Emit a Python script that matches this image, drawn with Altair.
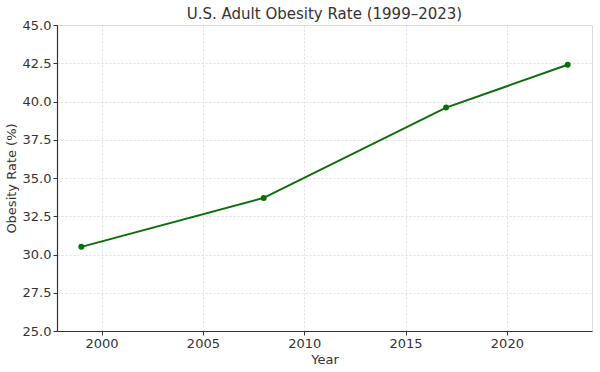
import altair as alt
import pandas as pd

years = [1999, 2008, 2017, 2023]
rates = [30.5, 33.7, 39.6, 42.4]
x_ticks = [2000, 2005, 2010, 2015, 2020]
y_ticks = [25.0, 27.5, 30.0, 32.5, 35.0, 37.5, 40.0, 42.5, 45.0]

df = pd.DataFrame({"Year": years, "Rate": rates})

FONT = "DejaVu Sans"
LINE_COLOR = "#0b6e0b"

common_axis = dict(
    grid=True, gridDash=[2, 2], gridColor="#d8d8d8", gridWidth=0.8,
    domainColor="#333333", tickColor="#333333", domainWidth=1.2,
    labelFontSize=13, titleFontSize=13, labelColor="#333333",
    titleColor="#333333", titleFontWeight="normal", labelFont=FONT,
    titleFont=FONT, tickSize=4,
)

x = alt.X(
    "Year:Q",
    title="Year",
    scale=alt.Scale(domain=[1997.8, 2024.2], nice=False, zero=False),
    axis=alt.Axis(values=x_ticks, format="d", labelPadding=2, titlePadding=3,
                  **common_axis),
)
y = alt.Y(
    "Rate:Q",
    title="Obesity Rate (%)",
    scale=alt.Scale(domain=[25, 45], nice=False, zero=False),
    axis=alt.Axis(values=y_ticks, format=".1f", labelPadding=2, titlePadding=4,
                  **common_axis),
)

base = alt.Chart(df)
line = base.mark_line(color=LINE_COLOR, strokeWidth=2).encode(x=x, y=y)
points = base.mark_circle(color=LINE_COLOR, size=36, opacity=1).encode(x=x, y=y)

chart = (
    alt.layer(line, points)
    .properties(
        width=535,
        height=306,
        title=alt.TitleParams("U.S. Adult Obesity Rate (1999–2023)", fontSize=15,
                              font=FONT, fontWeight="normal", color="#333333",
                              anchor="middle", offset=-3),
        autosize=alt.AutoSizeParams(type="none"),
        padding={"left": 57, "top": 25, "right": 8, "bottom": 41},
    )
    .configure_view(stroke=None)
    .configure(background="white")
)

chart.save("out.html", embed_options={"renderer": "svg", "actions": False})
